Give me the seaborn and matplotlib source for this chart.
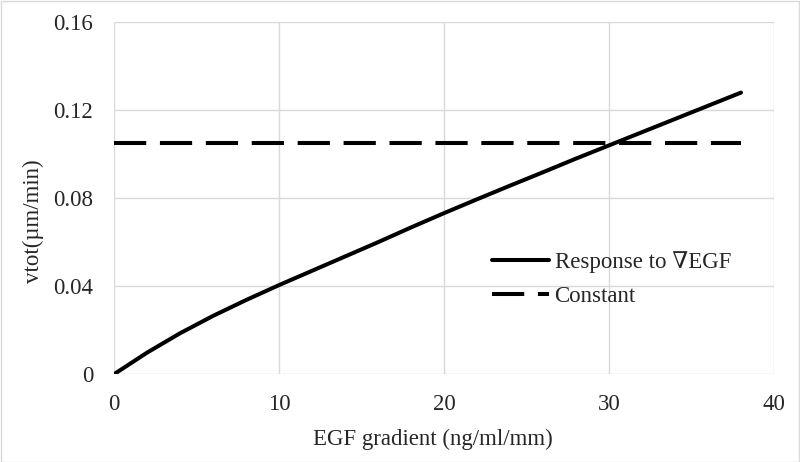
import pandas as pd
import matplotlib.pyplot as plt
import seaborn as sns

# EGF gradient (ng/ml/mm)
gradient = [0, 2, 4, 6, 8, 10, 12, 14, 16, 18, 20, 22, 24, 26, 28, 30, 32, 34, 36, 38]
# total velocity in response to the gradient (um/min)
response = [0.0, 0.0098, 0.0186, 0.0265, 0.0337, 0.0405, 0.047, 0.0535, 0.060, 0.0667,
            0.0732, 0.0795, 0.0857, 0.0918, 0.098, 0.104, 0.110, 0.116, 0.122, 0.128]
constant_value = 0.1053
series_names = ["Response to \u2207EGF", "Constant"]

df = pd.DataFrame({
    "gradient": gradient + gradient,
    "vtot": response + [constant_value] * len(gradient),
    "series": [series_names[0]] * len(gradient) + [series_names[1]] * len(gradient),
})

sns.set_style("white")
plt.rcParams["font.family"] = ["Liberation Serif", "DejaVu Serif"]

fig = plt.figure(figsize=(8, 4.62), dpi=100)
ax = fig.add_axes([0.1425, 0.19, 0.825, 0.762])

sns.lineplot(data=df, x="gradient", y="vtot", hue="series", style="series",
             palette=["black", "black"], dashes=[(), (8, 3.4)],
             linewidth=2.9, ax=ax)

ax.set_xlim(0, 40)
ax.set_ylim(0, 0.16)
ax.set_xticks([0, 10, 20, 30, 40])
ax.set_yticks([0, 0.04, 0.08, 0.12, 0.16])
ax.set_yticklabels(["0", "0.04", "0.08", "0.12", "0.16"])
ax.grid(True, color="#d9d9d9", linewidth=1)
ax.set_axisbelow(True)
for s in ax.spines.values():
    s.set_visible(False)
ax.tick_params(axis="both", length=0, labelsize=16.5)
ax.tick_params(axis="x", pad=14)
ax.tick_params(axis="y", pad=15)

ax.set_xlabel("EGF gradient (ng/ml/mm)", fontsize=16.5, va="center")
ax.set_ylabel("vtot(\u00b5m/min)", fontsize=16.5, va="center")
ax.xaxis.set_label_coords(0.483, -0.185)
ax.yaxis.set_label_coords(-0.1227, 0.435)

ax.legend(title=None, loc="center left", bbox_to_anchor=(0.573, 0.27),
          frameon=False, fontsize=16.5, handlelength=2.5, borderpad=0,
          borderaxespad=0, handletextpad=0.22, labelspacing=0.55)

fig.patches.append(plt.Rectangle((0.001, 0.001), 0.998, 0.997, transform=fig.transFigure,
                                 fill=False, edgecolor="#d9d9d9", linewidth=1))

fig.savefig("out.png", dpi=100)
